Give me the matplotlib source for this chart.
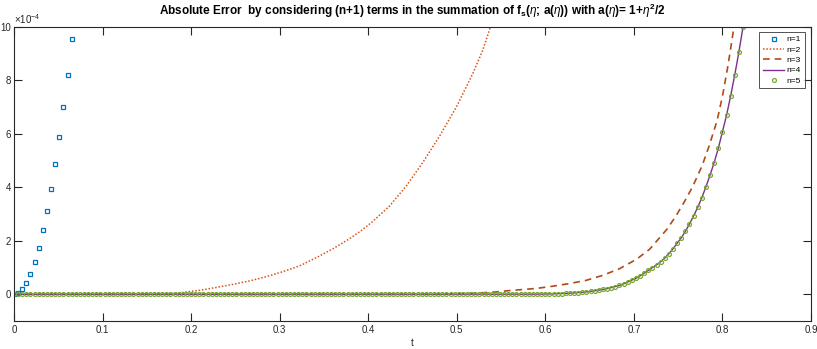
import numpy as np
import matplotlib
matplotlib.use("Agg")
import matplotlib.pyplot as plt

plt.rcParams["font.family"] = ["Liberation Sans", "DejaVu Sans"]
plt.rcParams["mathtext.fontset"] = "custom"
plt.rcParams["mathtext.rm"] = "Liberation Sans"
plt.rcParams["mathtext.it"] = "Liberation Sans:italic"
plt.rcParams["mathtext.bf"] = "Liberation Sans:bold"

# sample step of the t grid (markers of n=1 and n=5 sit on it)
H = 1 / 215

# errors are in units of 1e-4
n1_err = [0, 0.05, 0.20, 0.41, 0.76, 1.21, 1.75, 2.40, 3.11, 3.93, 4.86, 5.88, 6.99, 8.20, 9.54]

n2_t = [0, 0.17, 0.191, 0.21, 0.229, 0.247, 0.266, 0.285, 0.304, 0.323, 0.342, 0.360,
        0.379, 0.392, 0.405, 0.424, 0.443, 0.462, 0.481, 0.4995, 0.518, 0.529, 0.538, 0.546]
n2_err = [0, 0, 0.07, 0.15, 0.26, 0.37, 0.50, 0.66, 0.85, 1.07, 1.38, 1.70,
          2.08, 2.38, 2.72, 3.30, 4.05, 4.95, 5.94, 7.00, 8.25, 9.10, 10.0, 10.8]

n3_t = [0, 0.481, 0.511, 0.526, 0.545, 0.560, 0.575, 0.590, 0.608, 0.627, 0.646, 0.665,
        0.684, 0.703, 0.718, 0.725, 0.737, 0.747, 0.756, 0.766, 0.777, 0.785, 0.794,
        0.800, 0.806, 0.811, 0.816]
n3_err = [0, 0, 0.03, 0.05, 0.09, 0.14, 0.18, 0.22, 0.30, 0.40, 0.52, 0.71,
          0.96, 1.31, 1.69, 1.96, 2.42, 2.90, 3.40, 4.00, 4.80, 5.55, 6.50,
          7.40, 8.50, 9.55, 10.7]

n5_err = [0.0] * 124 + [
    0.001, 0.002, 0.003, 0.004, 0.006, 0.008, 0.011, 0.015, 0.020, 0.027,
    0.034, 0.042, 0.052, 0.064, 0.077, 0.09, 0.11, 0.13, 0.155, 0.18,
    0.21, 0.25, 0.29, 0.33, 0.39, 0.46, 0.53, 0.60, 0.69, 0.79,
    0.89, 1.00, 1.10, 1.22, 1.36, 1.52, 1.70, 1.91, 2.11, 2.35,
    2.63, 2.93, 3.25, 3.61, 4.02, 4.46, 4.93, 5.46, 6.07, 6.69,
    7.42, 8.21, 9.06, 10.0]
n4_err = n5_err + [11.1]

x_ticks = [0, 0.1, 0.2, 0.3, 0.4, 0.5, 0.6, 0.7, 0.8, 0.9]
y_ticks = [0, 2, 4, 6, 8, 10]

t1 = np.arange(len(n1_err)) * H
t4 = np.arange(len(n4_err)) * H
t5 = np.arange(len(n5_err)) * H

fig = plt.figure(figsize=(8.17, 3.49), dpi=100)
ax = fig.add_axes([0.0171, 0.0802, 0.9755, 0.8424])

ax.plot(t1, n1_err, ls="none", marker="s", ms=2.6, mfc="none", mew=0.9,
        color="#0072BD", label="n=1")
ax.plot(n2_t, n2_err, ls=(0, (1, 1.2)), lw=1.1, color="#D95319", label="n=2")
ax.plot(n3_t, n3_err, ls=(0, (4, 3)), lw=1.2, color="#B04A16", label="n=3")
ax.plot(t4, n4_err, ls="-", lw=1.0, color="#7E2F8E", label="n=4")
ax.plot(t5, n5_err, ls="none", marker="o", ms=2.8, mfc="none", mew=0.9,
        color="#77AC30", label="n=5")

ax.set_xlim(0, 0.9)
ax.set_ylim(-1, 10)
ax.set_xticks(x_ticks)
ax.set_xticklabels([f"{v:g}" for v in x_ticks])
ax.set_yticks(y_ticks)
ax.set_yticklabels([str(v) for v in y_ticks])

edge = "#262626"
for s in ax.spines.values():
    s.set_color(edge)
    s.set_linewidth(0.8)
ax.tick_params(direction="in", length=5.5, width=0.8, colors=edge, labelsize=7,
               top=True, right=True, pad=3)
ax.tick_params(axis="y", pad=2)

ax.text(0.0, 1.005, r"$\times$10$^{-4}$", transform=ax.transAxes, fontsize=7,
        color=edge, ha="left", va="bottom")
ax.set_xlabel("t", fontsize=7, color=edge, labelpad=2)
ax.set_title(r"Absolute Error  by considering (n+1) terms in the summation of "
             r"f$_\mathbf{s}$($\eta$; a($\eta$)) with a($\eta$)= 1+$\eta^{\mathbf{2}}$/2",
             fontsize=8.5, fontweight="bold", pad=9)

leg = ax.legend(loc="upper right", bbox_to_anchor=(0.992, 0.982), fontsize=6,
                frameon=True, fancybox=False, handlelength=2.6, handletextpad=0.3,
                borderpad=0.4, labelspacing=0.3, borderaxespad=0)
leg.get_frame().set_edgecolor(edge)
leg.get_frame().set_linewidth(0.7)

fig.savefig("out.png", dpi=100)
